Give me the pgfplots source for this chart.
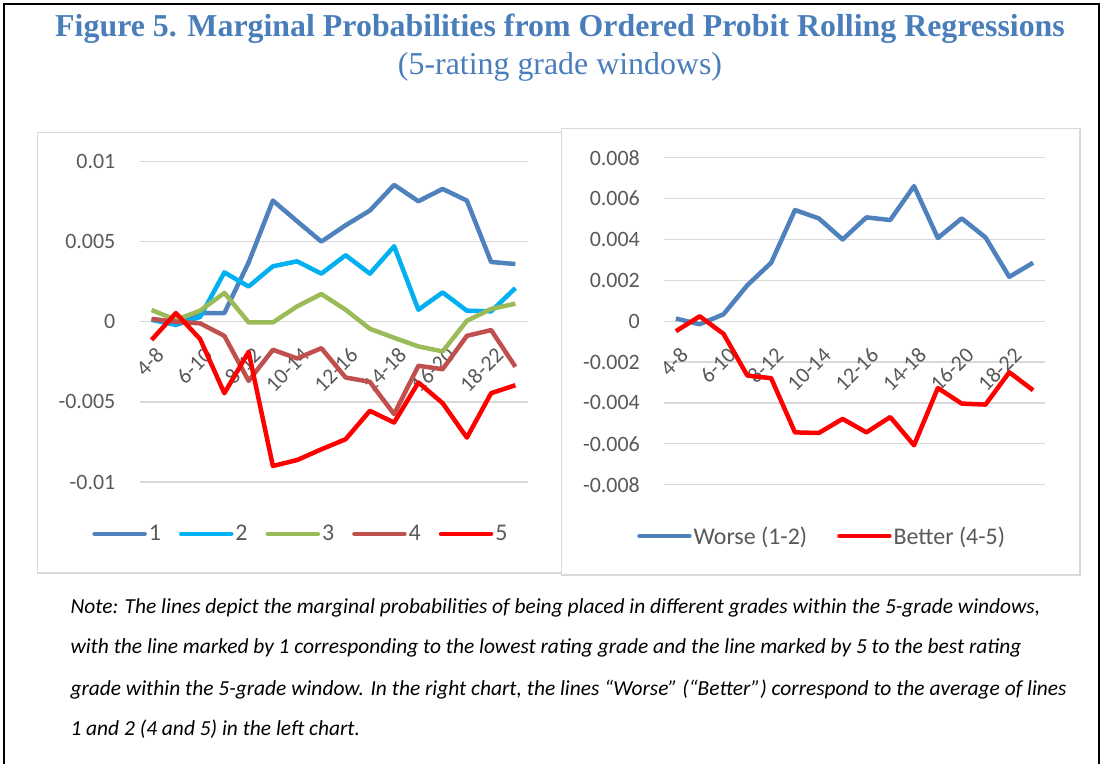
\documentclass[border=0pt]{standalone}
\usepackage{fontspec}
\setmainfont{Carlito}
\newfontfamily\titlefont{Liberation Serif}
\usepackage{pgfplots}
\pgfplotsset{compat=1.18}
\usepackage{pgfplotstable}

\definecolor{s1}{HTML}{4F81BD}
\definecolor{s2}{HTML}{00B0F0}
\definecolor{s3}{HTML}{9BBB59}
\definecolor{s4}{HTML}{C0504D}
\definecolor{s5}{HTML}{FF0000}
\definecolor{tickgray}{HTML}{595959}
\definecolor{gridgray}{HTML}{D9D9D9}
\definecolor{titleblue}{HTML}{4A7EBB}

% marginal probabilities, grades 1..5, windows 4-8 ... 19-23
\pgfplotstableread{
idx s1 s2 s3 s4 s5
0 0.00017 0.00012 0.00073 0.00017 -0.00113
1 -0.00004 -0.00020 0.00012 0.00000 0.00054
2 0.00054 0.00030 0.00069 -0.00010 -0.00108
3 0.00054 0.00308 0.00180 -0.00088 -0.00446
4 0.00370 0.00220 -0.00004 -0.00369 -0.00188
5 0.00756 0.00346 -0.00004 -0.00175 -0.00900
6 0.00627 0.00377 0.00096 -0.00229 -0.00863
7 0.00500 0.00300 0.00173 -0.00165 -0.00796
8 0.00602 0.00415 0.00075 -0.00348 -0.00733
9 0.00694 0.00300 -0.00044 -0.00375 -0.00556
10 0.00854 0.00471 -0.00100 -0.00577 -0.00629
11 0.00752 0.00075 -0.00154 -0.00275 -0.00379
12 0.00829 0.00183 -0.00185 -0.00296 -0.00508
13 0.00756 0.00069 0.00006 -0.00088 -0.00723
14 0.00373 0.00065 0.00080 -0.00052 -0.00446
15 0.00360 0.00210 0.00113 -0.00281 -0.00396
}\leftdata

% averages: worse (1-2), better (4-5)
\pgfplotstableread{
idx w b
0 0.00013 -0.00049
1 -0.00015 0.00024
2 0.00034 -0.00062
3 0.00176 -0.00266
4 0.00286 -0.00279
5 0.00544 -0.00544
6 0.00503 -0.00547
7 0.00400 -0.00478
8 0.00508 -0.00544
9 0.00495 -0.00469
10 0.00661 -0.00607
11 0.00407 -0.00327
12 0.00503 -0.00403
13 0.00410 -0.00408
14 0.00217 -0.00250
15 0.00286 -0.00338
}\rightdata

\pgfplotsset{
  panel/.style={
    scale only axis, xmin=-0.5, xmax=15.5,
    axis x line=middle, axis y line=left,
    x axis line style={draw=gridgray, line width=1.3bp, -},
    y axis line style={draw=none},
    hide obscured x ticks=false, hide obscured y ticks=false,
    scaled y ticks=false,
    ymajorgrids, grid style={draw=gridgray, line width=1.3bp},
    major tick length=0pt, tick style={draw=none},
    xtick={0,2,...,14},
    xticklabels={4-8,6-10,8-12,10-14,12-16,14-18,16-20,18-22},
    tick label style={font=\fontsize{22}{22}\selectfont, text=tickgray, inner sep=0pt},
    xticklabel style={xshift=8.5bp, yshift=-30bp, rotate=45, anchor=east},
    yticklabel style={anchor=east, xshift=-24bp},
    legend columns=-1,
    legend style={draw=none, fill=none, font=\fontsize{24}{24}\selectfont,
      text=tickgray, anchor=center},
    legend image code/.code={\draw[#1, line cap=round] (0bp,0bp) -- (50bp,0bp);},
    every axis plot/.append style={line width=4.5bp, line join=round},
  }
}

\begin{document}
\begin{tikzpicture}
\path[use as bounding box] (0,0) rectangle (1105bp,764bp);
\draw[line width=1.5bp] (4bp,0bp) -- (4bp,760bp) -- (1099bp,760bp) -- (1099bp,0bp);

\node[anchor=base, text=titleblue, font=\titlefont\bfseries\fontsize{32}{32}\selectfont]
  at (560bp,727bp) {Figure 5. Marginal Probabilities from Ordered Probit Rolling Regressions};
\node[anchor=base, text=titleblue, font=\titlefont\fontsize{32}{32}\selectfont]
  at (560bp,689bp) {(5-rating grade windows)};

\draw[gridgray, line width=1.3bp] (37.3bp,191bp) rectangle (561.3bp,631.7bp);
\draw[gridgray, line width=1.3bp, fill=white] (561.3bp,189bp) rectangle (1080bp,635.7bp);

\begin{axis}[panel, at={(139.5bp,282bp)}, anchor=south west,
  width=388bp, height=320.5bp, ymin=-0.01, ymax=0.01,
  ytick={-0.01,-0.005,0,0.005,0.01},
  yticklabels={-0.01,-0.005,0,0.005,0.01},
  legend style={at={(0.416,-0.162)}, /tikz/every even column/.append style={column sep=16bp}}]
\addplot[s1] table[x=idx, y=s1] {\leftdata};
\addlegendentry{1}
\addplot[s2] table[x=idx, y=s2] {\leftdata};
\addlegendentry{2}
\addplot[s3] table[x=idx, y=s3] {\leftdata};
\addlegendentry{3}
\addplot[s4] table[x=idx, y=s4] {\leftdata};
\addlegendentry{4}
\addplot[s5] table[x=idx, y=s5] {\leftdata};
\addlegendentry{5}
\end{axis}

\begin{axis}[panel, at={(664bp,279.3bp)}, anchor=south west,
  width=381bp, height=327bp, ymin=-0.008, ymax=0.008,
  ytick={-0.008,-0.006,-0.004,-0.002,0,0.002,0.004,0.006,0.008},
  yticklabels={-0.008,-0.006,-0.004,-0.002,0,0.002,0.004,0.006,0.008},
  legend style={at={(0.415,-0.157)}, /tikz/every even column/.append style={column sep=28bp}}]
\addplot[s1] table[x=idx, y=w] {\rightdata};
\addlegendentry{Worse (1-2)}
\addplot[s5] table[x=idx, y=b] {\rightdata};
\addlegendentry{Better (4-5)}
\end{axis}

\begin{scope}[font=\itshape\fontsize{21.5}{21.5}\selectfont]
\node[anchor=base west] at (67bp,150bp) {Note: The lines depict the marginal probabilities of being placed in different grades within the 5-grade windows,};
\node[anchor=base west] at (67bp,110bp) {with the line marked by 1 corresponding to the lowest rating grade and the line marked by 5 to the best rating};
\node[anchor=base west] at (67bp,68bp) {grade within the 5-grade window. In the right chart, the lines “Worse” (“Better”) correspond to the average of lines};
\node[anchor=base west] at (67bp,29bp) {1 and 2 (4 and 5) in the left chart.};
\end{scope}
\end{tikzpicture}
\end{document}
